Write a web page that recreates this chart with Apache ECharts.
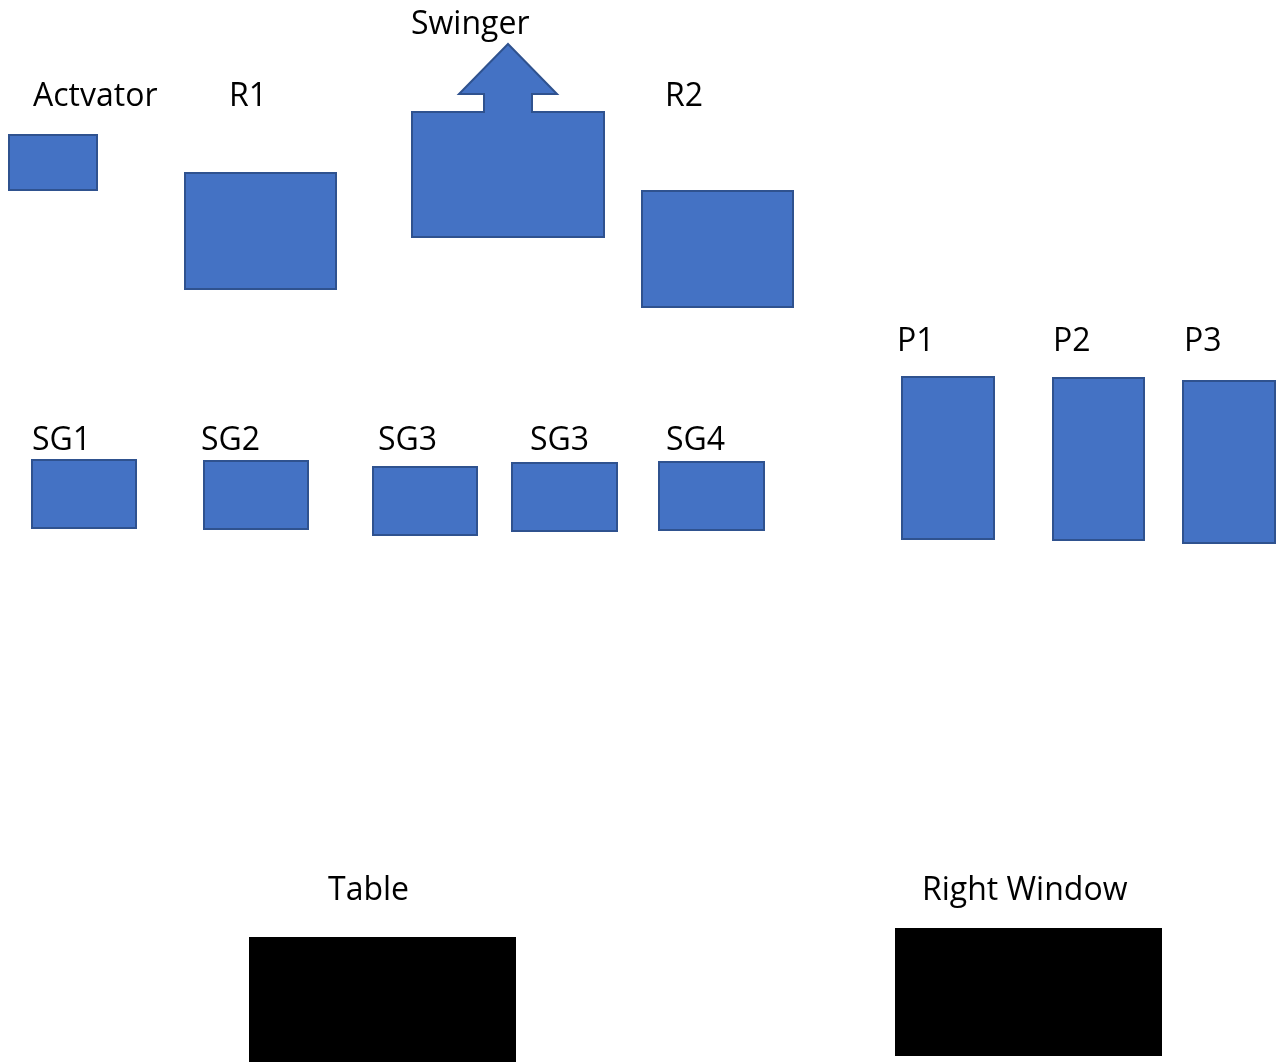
<!DOCTYPE html>
<html>
<head>
<meta charset="utf-8">
<script src="https://cdn.jsdelivr.net/npm/echarts@6/dist/echarts.min.js"></script>
<style>html,body{margin:0;padding:0;background:#fff;}#c{width:1277px;height:1062px;}</style>
</head>
<body>
<div id="c"></div>
<script>
// Layout units: a 1277 x 1062 plane (y grows downward)
const blockNames = ['Actvator','R1','Swinger','R2','P1','P2','P3','SG1','SG2','SG3','SG3','SG4','Table','Right Window'];
const blockX0 = [9, 185, 412, 642, 902, 1053, 1183, 32, 204, 373, 512, 659, 249, 895];
const blockY0 = [135, 173, 112, 191, 377, 378, 381, 460, 461, 467, 463, 462, 937, 928];
const blockX1 = [97, 336, 604, 793, 994, 1144, 1275, 136, 308, 477, 617, 764, 516, 1162];
const blockY1 = [190, 289, 237, 307, 539, 540, 543, 528, 529, 535, 531, 530, 1062, 1056];
const blockKind = ['part','part','part','part','part','part','part','part','part','part','part','part','fixture','fixture'];
const labelX = [33, 229, 411, 665, 897, 1053, 1184, 32, 201, 378, 530, 666, 328, 922];
const labelY = [97, 97, 25, 97, 342, 342, 342, 441, 441, 441, 441, 441, 891, 891];
// Swinger arrow: [tipX, tipY, headBaseY, headLeftX, headRightX, shaftLeftX, shaftRightX]
const swingerArrow = [508, 44, 94, 459, 557, 484, 532];

const data = blockNames.map((n, i) => [blockX0[i], blockY0[i], blockX1[i], blockY1[i], labelX[i], labelY[i], i]);

const chart = echarts.init(document.getElementById('c'), null, {renderer: 'canvas'});
chart.setOption({
  animation: false,
  grid: {left: 0, right: 0, top: 0, bottom: 0},
  xAxis: {type: 'value', min: 0, max: 1277, show: false},
  yAxis: {type: 'value', min: 0, max: 1062, inverse: true, show: false},
  series: [{
    type: 'custom',
    coordinateSystem: 'cartesian2d',
    data: data,
    encode: {x: [0, 2], y: [1, 3]},
    renderItem: function (params, api) {
      const i = api.value(6);
      const p0 = api.coord([api.value(0), api.value(1)]);
      const p1 = api.coord([api.value(2), api.value(3)]);
      const lp = api.coord([api.value(4), api.value(5)]);
      const fixture = blockKind[i] === 'fixture';
      const fill = fixture ? '#000000' : '#4472C4';
      const stroke = fixture ? '#000000' : '#2F528F';
      const children = [];
      if (blockNames[i] === 'Swinger') {
        const a = swingerArrow;
        const pts = [
          [p0[0], p0[1]],
          [a[5], api.value(1)], [a[5], a[2]], [a[3], a[2]], [a[0], a[1]], [a[4], a[2]], [a[6], a[2]], [a[6], api.value(1)]
        ].map((q, k) => k === 0 ? q : api.coord(q));
        pts.push([p1[0], p0[1]], [p1[0], p1[1]], [p0[0], p1[1]]);
        children.push({type: 'polygon', shape: {points: pts}, style: {fill: fill, stroke: stroke, lineWidth: 2}});
      } else {
        children.push({type: 'rect', shape: {x: p0[0], y: p0[1], width: p1[0] - p0[0], height: p1[1] - p0[1]},
          style: {fill: fill, stroke: stroke, lineWidth: fixture ? 0 : 2}});
      }
      children.push({type: 'text', x: lp[0], y: lp[1], style: {text: blockNames[i], fill: '#000', font: '32px "Open Sans"', textAlign: 'left', textVerticalAlign: 'middle'}});
      return {type: 'group', children: children};
    }
  }]
});
</script>
</body>
</html>
